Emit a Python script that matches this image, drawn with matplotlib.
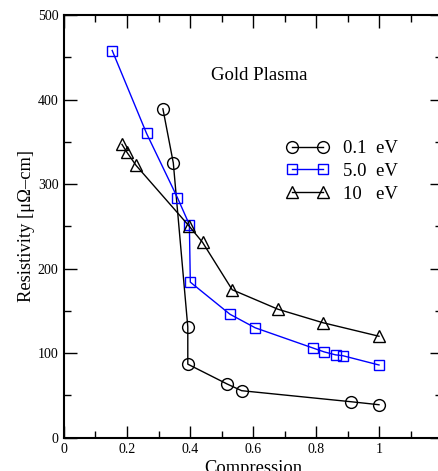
import matplotlib
matplotlib.use('Agg')
import matplotlib.pyplot as plt
from matplotlib.ticker import MultipleLocator

plt.rcParams['font.family'] = ['Liberation Serif', 'DejaVu Serif']

# 0.1 eV
comp_01 = [0.314, 0.347, 0.393, 0.393, 0.518, 0.564, 0.910, 1.0]
res_01 = [389, 325, 131, 87, 63.5, 55.6, 42.6, 39]

# 5.0 eV
comp_50 = [0.153, 0.262, 0.360, 0.398, 0.401, 0.527, 0.607, 0.791, 0.826, 0.862, 0.885, 1.0]
res_50 = [458, 360, 284, 252, 184, 146, 130, 106, 101.5, 98, 97, 86]

# 10 eV
comp_10 = [0.184, 0.199, 0.229, 0.398, 0.440, 0.534, 0.679, 0.822, 1.0]
res_10 = [347, 338, 322, 250, 231, 175, 152, 136, 120]

fig = plt.figure(figsize=(4.39, 4.71), dpi=100)
ax = fig.add_axes([64 / 439, (471 - 437.7) / 471, (442 - 64) / 439, (437.7 - 15) / 471])

ax.plot(comp_01, res_01, color='black', lw=1, marker='o', ms=8.5,
        mfc='none', mec='black', mew=1, label='0.1  eV')
ax.plot(comp_50, res_50, color='#0000ff', lw=1, marker='s', ms=7.5,
        mfc='none', mec='#0000ff', mew=1, label='5.0  eV')
ax.plot(comp_10, res_10, color='black', lw=1, marker='^', ms=8.5,
        mfc='none', mec='black', mew=1, label='10   eV')

ax.set_xlim(0, 1.2)
ax.set_ylim(0, 500)
ax.yaxis.set_major_locator(MultipleLocator(100))
ax.yaxis.set_minor_locator(MultipleLocator(50))
ax.set_xticks([0, 0.2, 0.4, 0.6, 0.8, 1.0])
ax.set_xticklabels(['0', '0.2', '0.4', '0.6', '0.8', '1'])
ax.set_xticks([0.1, 0.3, 0.5, 0.7, 0.9, 1.1], minor=True)

ax.tick_params(which='both', direction='in', top=True, right=True,
               labelsize=10, width=1, pad=4)
ax.tick_params(which='major', length=9)
ax.tick_params(which='minor', length=5)
for s in ax.spines.values():
    s.set_linewidth(1.5)

ax.set_xlabel('Compression', fontsize=13.3, labelpad=3)
ax.set_ylabel('Resistivity [μΩ–cm]', fontsize=13.3, labelpad=2)

ax.text(0.389, 0.858, 'Gold Plasma', transform=ax.transAxes, fontsize=13.5,
        ha='left', va='center')

ax.legend(loc='upper left', bbox_to_anchor=(0.569, 0.722), frameon=False,
          fontsize=13.5, handlelength=2.22, handletextpad=0.8,
          labelspacing=0.3, numpoints=2, borderaxespad=0)

fig.savefig('out.png', dpi=100)
